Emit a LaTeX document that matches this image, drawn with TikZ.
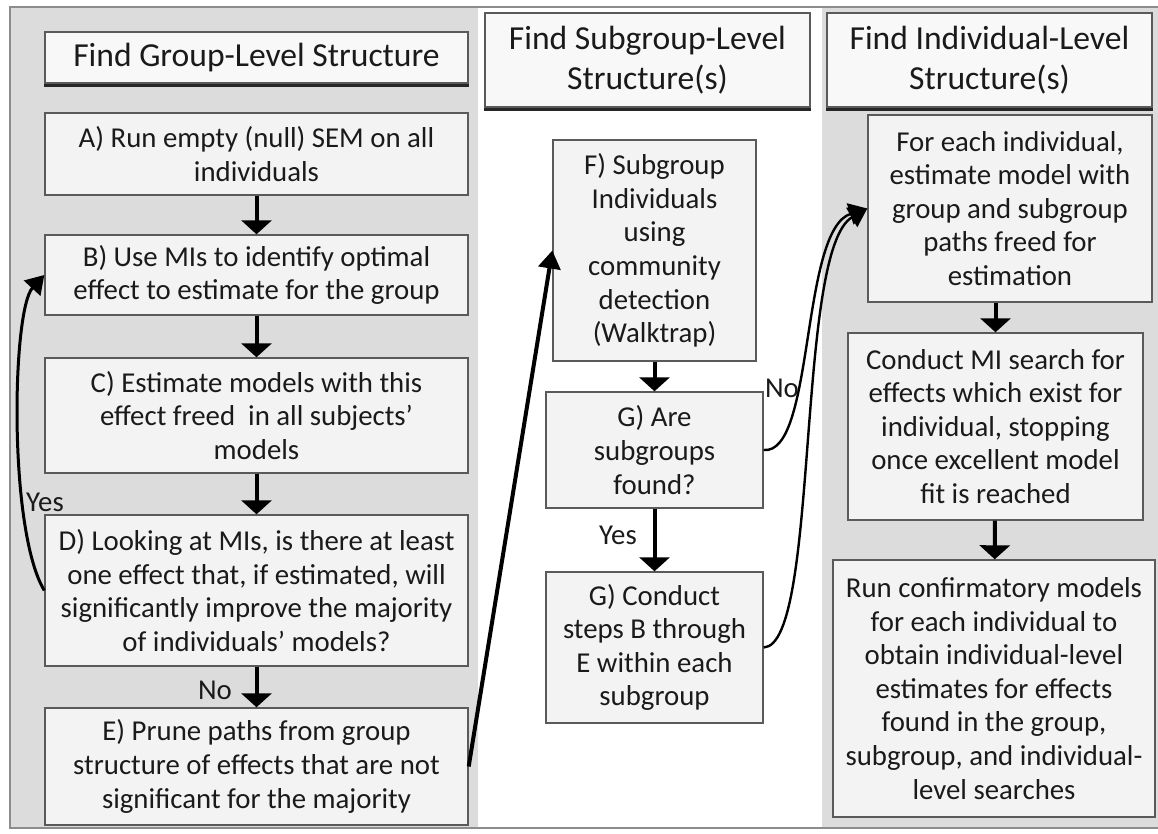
\documentclass[tikz,border=0pt]{standalone}
\usepackage{fontspec}
\setmainfont{Carlito}
\usepackage{tikz}
\usetikzlibrary{arrows.meta, positioning, calc}
\definecolor{PanelGray}{HTML}{DCDCDC}
\definecolor{BoxFill}{HTML}{F3F3F3}
\definecolor{BoxLine}{HTML}{5A5A5A}
\definecolor{TextDark}{HTML}{1A1A1A}
\definecolor{FrameGray}{HTML}{8C8C8C}
\tikzset{
    % Box styles
    stepbox/.style={
        rectangle,
        draw=BoxLine,
        fill=BoxFill,
        line width=0.7pt,
        inner sep=0pt,
        align=center,
        text=TextDark,
        font=\fontsize{14.4}{16.8}\selectfont
    },
    headbox/.style={
        stepbox,
        fill=BoxFill!60!white,
        font=\fontsize{16.8}{20}\selectfont
    },
    hdline/.style={
        line width=1.3pt,
        black!85
    },
    % Label style
    flowlabel/.style={
        inner sep=0pt,
        text=TextDark,
        font=\fontsize{14.4}{16.8}\selectfont
    },
    % Arrow styles
    flowarrow/.style={
        -{Triangle[width=15pt,length=7pt]},
        line width=2pt,
        black
    },
    looparrow/.style={
        -{Triangle[width=11pt,length=9pt]},
        line width=1.5pt,
        black
    },
    jumparrow/.style={
        -{Triangle[width=11pt,length=9pt]},
        line width=1.2pt,
        black
    }
}
\begin{document}
\begin{tikzpicture}[x=0.5pt, y=-0.5pt]
    \useasboundingbox (0,0) rectangle (1158,834);

    % Panels
    \fill[white] (0,0) rectangle (1158,834);
    \fill[PanelGray] (10,7) rectangle (478,828);
    \fill[PanelGray] (822,7) rectangle (1158,828);
    \draw[FrameGray, line width=1pt] (1158,7) -- (10,7) -- (10,828) -- (1158,828);

    % Headers
    \node[headbox, minimum width=211.5pt, minimum height=25.5pt] (hL) at (256.5,57.5) {Find Group-Level Structure};
    \node[headbox, minimum width=162.5pt, minimum height=47pt] (hM) at (647.5,60) {Find Subgroup-Level\\Structure(s)};
    \node[headbox, minimum width=162.5pt, minimum height=47pt] (hR) at (989.5,60) {Find Individual-Level\\Structure(s)};
    \foreach \h in {hL,hM,hR}
        \draw[hdline] ([yshift=-1pt]\h.south west) -- ([yshift=-1pt]\h.south east);

    % Group level
    \node[stepbox, minimum width=211.5pt, minimum height=41pt] (A) at (256.5,154) {A) Run empty (null) SEM on all\\individuals};
    \node[stepbox, minimum width=211.5pt, minimum height=40pt] (B) at (256.5,275) {B) Use MIs to identify optimal\\effect to estimate for the group};
    \node[stepbox, minimum width=211.5pt, minimum height=57.5pt] (C) at (256.5,415.5) {C) Estimate models with this\\effect freed\ \ in all subjects’\\models};
    \node[stepbox, minimum width=211.5pt, minimum height=75.5pt] (D) at (256.5,590.5) {D) Looking at MIs, is there at least\\one effect that, if estimated, will\\significantly improve the majority\\of individuals’ models?};
    \node[stepbox, minimum width=211.5pt, minimum height=58.5pt] (E) at (256.5,766.5) {E) Prune paths from group\\structure of effects that are not\\significant for the majority};

    % Subgroup level
    \node[stepbox, minimum width=101.5pt, minimum height=110.5pt] (F) at (654.5,250.5) {F) Subgroup\\Individuals\\using\\community\\detection\\(Walktrap)};
    \node[stepbox, minimum width=108.5pt, minimum height=58pt] (Ga) at (654.5,450) {G) Are\\subgroups\\found?};
    \node[stepbox, minimum width=108.5pt, minimum height=75.5pt] (Gb) at (654.5,647.5) {G) Conduct\\steps B through\\E within each\\subgroup};

    % Individual level
    \node[stepbox, minimum width=142pt, minimum height=93.5pt] (Ra) at (1010,208.5) {For each individual,\\estimate model with\\group and subgroup\\paths freed for\\estimation};
    \node[stepbox, minimum width=147.5pt, minimum height=93.5pt] (Rb) at (995.5,426.5) {Conduct MI search for\\effects which exist for\\individual, stopping\\once excellent model\\fit is reached};
    \node[stepbox, minimum width=161pt, minimum height=128.5pt] (Rc) at (994,688.5) {Run confirmatory models\\for each individual to\\obtain individual-level\\estimates for effects\\found in the group,\\subgroup, and individual-\\level searches};

    % Straight flow
    \draw[flowarrow] (A) -- (B);
    \draw[flowarrow] (B) -- (C);
    \draw[flowarrow] (C) -- (D);
    \draw[flowarrow] (D) -- (E);
    \draw[flowarrow] (F) -- (Ga);
    \draw[flowarrow] (Ga) -- (Gb);
    \draw[flowarrow] (Ra.south -| Rb.north) -- (Rb);
    \draw[flowarrow] (Rb) -- (Rc);

    % Jumps between panels
    \draw[looparrow] (D.west) .. controls (8,530) and (12,310) .. (B.west);
    \draw[looparrow, line width=2pt] (E.east) -- (F.west);
    \draw[jumparrow] (Ga.east) .. controls (815,455) and (800,230) .. (Ra.west);
    \draw[jumparrow] (Gb.east) .. controls (820,645) and (795,250) .. (Ra.west);

    % Labels
    \node[flowlabel] (yesB) at (45,502) {Yes};
    \node[flowlabel] (noE) at (215,690) {No};
    \node[flowlabel] (yesG) at (618,535) {Yes};
    \node[flowlabel] (noR) at (782,388) {No};
\end{tikzpicture}
\end{document}
